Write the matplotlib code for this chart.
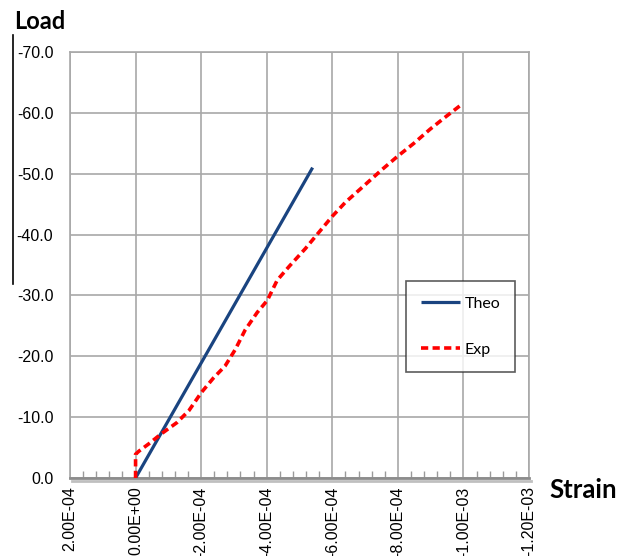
import matplotlib
matplotlib.use("Agg")
import matplotlib.pyplot as plt
import matplotlib.patheffects as pe
from matplotlib.lines import Line2D
from matplotlib.ticker import FixedLocator, MultipleLocator, FuncFormatter

# ---- data -------------------------------------------------------------------
theo_strain = [0.0, -5.40e-4]
theo_load = [0.0, -51.0]

exp_strain = [0.0, 0.0, -0.10e-4, -0.40e-4, -0.77e-4, -1.26e-4, -1.63e-4,
              -2.00e-4, -2.37e-4, -2.73e-4, -3.04e-4, -3.34e-4, -3.71e-4,
              -4.02e-4, -4.32e-4, -4.69e-4, -5.18e-4, -5.55e-4, -6.00e-4,
              -6.40e-4, -6.90e-4, -7.50e-4, -8.00e-4, -8.49e-4, -8.98e-4,
              -9.47e-4, -9.95e-4]
exp_load = [0.0, -3.9, -4.4, -5.6, -7.2, -9.1, -11.1,
            -14.0, -16.4, -18.4, -21.1, -24.3, -27.2,
            -29.2, -32.5, -34.8, -37.7, -40.1, -43.0,
            -45.3, -47.7, -50.6, -52.9, -55.0, -57.3,
            -59.4, -61.4]

x_ticks = [2e-4, 0.0, -2e-4, -4e-4, -6e-4, -8e-4, -1e-3, -1.2e-3]
y_ticks = [0, -10, -20, -30, -40, -50, -60, -70]

# ---- style ------------------------------------------------------------------
C_THEO = "#1a4480"
C_EXP = "#ff0000"
C_GRID = "#a8a8a8"

plt.rcParams["font.family"] = ["Liberation Sans", "DejaVu Sans"]

fig = plt.figure(figsize=(6.3, 5.56), dpi=100)
ax = fig.add_axes([0.1111, 0.1403, 0.7286, 0.7662])

ax.plot(theo_strain, theo_load, color=C_THEO, linewidth=2.3,
        solid_capstyle="butt", label="Theo", zorder=3)
ax.plot(exp_strain, exp_load, color=C_EXP, linewidth=2.6,
        linestyle=(0, (2.0, 1.2)), label="Exp", zorder=4)

ax.set_xlim(2e-4, -1.2e-3)
ax.set_ylim(0, -70)

ax.xaxis.set_major_locator(FixedLocator(x_ticks))
ax.xaxis.set_minor_locator(MultipleLocator(4e-5))
ax.yaxis.set_major_locator(FixedLocator(y_ticks))


def _sci(v, _pos):
    return "0.00E+00" if abs(v) < 1e-12 else f"{v:.2E}"


ax.xaxis.set_major_formatter(FuncFormatter(_sci))
ax.yaxis.set_major_formatter(FuncFormatter(lambda v, _p: f"{v:.1f}" if v else "0.0"))

ax.grid(True, which="major", color=C_GRID, linewidth=1.2)
ax.set_axisbelow(True)

ax.tick_params(axis="x", which="major", length=0, pad=6, labelsize=11.5,
               labelrotation=90)
ax.tick_params(axis="x", which="minor", direction="in", length=5,
               width=1, color="#9a9a9a")
ax.tick_params(axis="y", which="major", length=0, pad=12, labelsize=11.5)

for side in ("top", "right", "left"):
    ax.spines[side].set_color(C_GRID)
    ax.spines[side].set_linewidth(1.2)
ax.spines["bottom"].set_color("#8c8c8c")
ax.spines["bottom"].set_linewidth(2.0)
ax.spines["bottom"].set_path_effects([
    pe.SimpleLineShadow(offset=(1.5, -2), shadow_color="#b0b0b0", alpha=0.8),
    pe.Normal(),
])

leg = ax.legend(loc="upper left", bbox_to_anchor=(0.732, 0.462),
                frameon=True, fancybox=False,
                handlelength=2.4, labelspacing=2.0, borderpad=0.95,
                handletextpad=0.3, borderaxespad=0,
                prop={"family": "Lato", "size": 11.5})
leg.get_frame().set_edgecolor("#333333")
leg.get_frame().set_linewidth(1.2)

fig.text(0.022, 0.947, "Load", fontsize=17, fontweight="bold",
         family="Lato", ha="left", va="baseline")
fig.text(0.872, 0.105, "Strain", fontsize=18.5, fontweight="bold",
         family="Lato", ha="left", va="baseline")
fig.add_artist(Line2D([0.021, 0.021], [0.49, 0.937], color="black",
                      linewidth=1.2, transform=fig.transFigure))

fig.savefig("out.png", dpi=100)
